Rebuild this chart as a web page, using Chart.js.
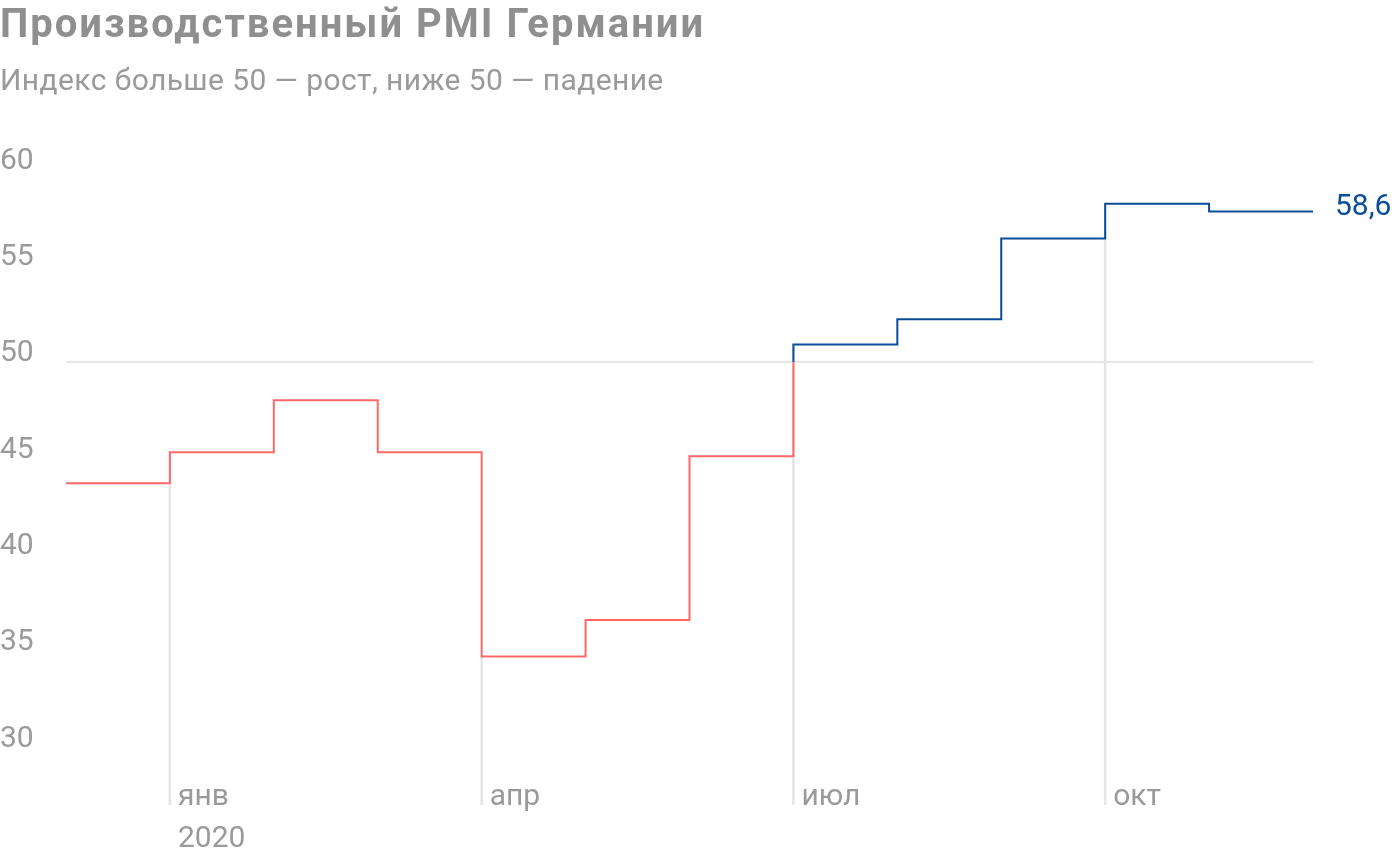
<!DOCTYPE html>
<html>
<head>
<meta charset="utf-8">
<script src="https://cdn.jsdelivr.net/npm/chart.js@4/dist/chart.umd.min.js"></script>
<style>
  html, body { margin: 0; padding: 0; background: #fff; }
  #wrap { position: relative; width: 1400px; height: 860px; }
  #title { position: absolute; left: 0; top: 4px; font: 700 40px Roboto, sans-serif; line-height: 1; letter-spacing: 2px; color: #8f8f8f; white-space: nowrap; }
  #subtitle { position: absolute; left: 0; top: 65px; font: 400 30px Roboto, sans-serif; line-height: 1; letter-spacing: 0.4px; color: #9a9a9a; white-space: nowrap; }
  #c { position: absolute; left: 0; top: 0; }
</style>
</head>
<body>
<div id="wrap">
  <canvas id="c" width="1400" height="860"></canvas>
  <div id="title">Производственный PMI Германии</div>
  <div id="subtitle">Индекс больше 50 — рост, ниже 50 — падение</div>
</div>
<script>
// Months: Dec 2019 … Nov 2020 (index 0 = Dec 2019)
const months = ['дек', 'янв', 'фев', 'мар', 'апр', 'май', 'июн', 'июл', 'авг', 'сен', 'окт', 'ноя'];
const pmi = [43.7, 45.3, 48.0, 45.3, 34.7, 36.6, 45.1, 50.9, 52.2, 56.4, 58.2, 57.8];
const xTickMonths = [1, 4, 7, 10];
const xTickLabels = [['янв', '2020'], ['апр'], ['июл'], ['окт']];
const yTicks = [30, 35, 40, 45, 50, 55, 60];
const threshold = 50;
const lastLabel = '58,6';

const RED = '#ff6868';
const BLUE = '#0a4c99';
const GRID = '#e6e6e6';
const TEXT = '#9a9a9a';
const FONT = 'Roboto, sans-serif';

// stepped line: each month holds its value until the next month starts
const linePoints = pmi.map((v, i) => ({ x: i, y: v }));
linePoints.push({ x: pmi.length, y: pmi[pmi.length - 1] });

// drop lines at quarter starts
const dropPoints = xTickMonths.map(m => ({ x: m, y: pmi[m] }));

function lineGradient(ctx) {
  const chart = ctx.chart;
  const { chartArea, scales } = chart;
  if (!chartArea) return RED;
  const y50 = scales.y.getPixelForValue(threshold);
  const g = chart.ctx.createLinearGradient(0, chartArea.top, 0, chartArea.bottom);
  const f = Math.min(1, Math.max(0, (y50 - chartArea.top) / (chartArea.bottom - chartArea.top)));
  g.addColorStop(0, BLUE);
  g.addColorStop(f, BLUE);
  g.addColorStop(f, RED);
  g.addColorStop(1, RED);
  return g;
}

const endLabelPlugin = {
  id: 'endLabel',
  afterDatasetsDraw(chart) {
    const meta = chart.getDatasetMeta(1);
    const pt = meta.data[meta.data.length - 1];
    if (!pt) return;
    const c = chart.ctx;
    c.save();
    c.font = '400 30px ' + FONT;
    c.fillStyle = BLUE;
    c.textAlign = 'left';
    c.textBaseline = 'alphabetic';
    c.fillText(lastLabel, pt.x + 22, pt.y + 4);
    c.restore();
  }
};

new Chart(document.getElementById('c'), {
  type: 'line',
  data: {
    datasets: [
      {
        type: 'bar',
        data: dropPoints,
        backgroundColor: GRID,
        barThickness: 2,
        grouped: false,
        order: 2
      },
      {
        type: 'line',
        data: linePoints,
        stepped: 'before',
        borderColor: lineGradient,
        borderWidth: 2,
        pointRadius: 0,
        fill: false,
        borderJoinStyle: 'miter',
        borderCapStyle: 'butt',
        order: 1
      }
    ]
  },
  options: {
    responsive: false,
    animation: false,
    layout: { padding: { top: 169, right: 87, bottom: 0, left: 0 } },
    plugins: {
      legend: { display: false },
      tooltip: { enabled: false },
      title: { display: false }
    },
    scales: {
      x: {
        type: 'linear',
        min: 0,
        max: pmi.length,
        offset: false,
        grid: { display: false, drawTicks: false },
        border: { display: false },
        afterBuildTicks: (scale) => { scale.ticks = xTickMonths.map(v => ({ value: v })); },
        afterFit: (scale) => { scale.height = 55; },
        ticks: {
          autoSkip: false,
          maxRotation: 0,
          mirror: true,
          align: 'start',
          labelOffset: 8,
          padding: -13,
          color: TEXT,
          font: { family: FONT, size: 30, lineHeight: 1.4 },
          callback: (v) => {
            const i = xTickMonths.indexOf(v);
            return i >= 0 ? xTickLabels[i] : '';
          }
        }
      },
      y: {
        type: 'linear',
        min: 27,
        max: 60,
        grid: {
          drawTicks: false,
          color: (ctx) => (ctx.tick && ctx.tick.value === threshold ? GRID : 'rgba(0,0,0,0)'),
          lineWidth: 2
        },
        border: { display: false },
        afterBuildTicks: (scale) => { scale.ticks = yTicks.map(v => ({ value: v })); },
        afterFit: (scale) => { scale.width = 66; },
        ticks: {
          crossAlign: 'far',
          padding: 0,
          labelOffset: -8,
          color: TEXT,
          font: { family: FONT, size: 30 },
          callback: (v) => String(v)
        }
      }
    }
  },
  plugins: [endLabelPlugin]
});
</script>
</body>
</html>
